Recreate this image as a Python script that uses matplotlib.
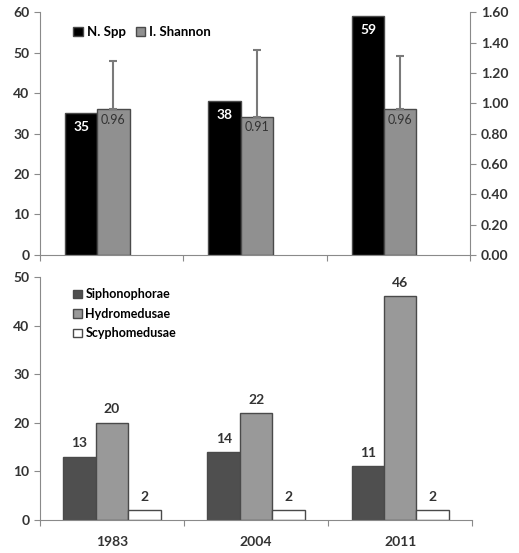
import matplotlib.pyplot as plt
import numpy as np

years = ["1983", "2004", "2011"]
n_spp = [35, 38, 59]
shannon = [0.96, 0.91, 0.96]
shannon_err = [0.32, 0.44, 0.35]
sipho = [13, 14, 11]
hydro = [20, 22, 46]
scypho = [2, 2, 2]

plt.rcParams['font.family'] = ['Lato', 'DejaVu Sans']
plt.rcParams['font.weight'] = 'bold'
plt.rcParams['font.size'] = 10

axcol = "#8a8a8a"
edge = "#4a4a4a"
w = 0.225
x = np.arange(len(years))

fig = plt.figure(figsize=(5.19, 5.53), dpi=100)
ax1 = fig.add_axes([0.077, 0.539, 0.829, 0.439])
ax2 = fig.add_axes([0.077, 0.060, 0.833, 0.439])


def style(ax, sides):
    for s in ax.spines:
        ax.spines[s].set_visible(s in sides)
        ax.spines[s].set_color(axcol)
    ax.tick_params(colors=axcol, labelcolor="#333333", direction="out", length=4)


# top panel
ax1.set_xlim(-0.5, 2.5)
ax1.set_ylim(0, 60)
ax1.set_yticks(range(0, 61, 10))
b1 = ax1.bar(x - w / 2 - 0.1, n_spp, w, color="black", edgecolor=edge, lw=1,
             label="N. Spp")
style(ax1, ["left", "bottom"])
ax1.set_xticks([-0.5, 0.5, 1.5, 2.5])
ax1.set_xticklabels([])

ax1r = ax1.twinx()
ax1r.set_ylim(0, 1.6)
ax1r.set_yticks(np.arange(0, 1.61, 0.2))
ax1r.set_yticklabels(["%.2f" % v for v in np.arange(0, 1.61, 0.2)])
b2 = ax1r.bar(x + w / 2 - 0.1, shannon, w, color="#909090", edgecolor=edge, lw=1,
              label="I. Shannon")
ax1r.errorbar(x + w / 2 - 0.1, shannon, yerr=[np.zeros(3), shannon_err], fmt="none",
              ecolor="#7a7a7a", elinewidth=1.5, capsize=3, capthick=1.5)
style(ax1r, ["right"])

for xi, v in zip(x - w / 2 - 0.1, n_spp):
    ax1.text(xi, v - 2, str(v), color="white", ha="center", va="top", fontsize=10)
for xi, v in zip(x + w / 2 - 0.1, shannon):
    ax1r.text(xi, v - 0.03, "%.2f" % v, color="#333333", ha="center", va="top",
              fontsize=9, fontweight="normal")

ax1.legend([b1, b2], ["N. Spp", "I. Shannon"], loc="upper left", ncol=2,
           bbox_to_anchor=(0.05, 0.99), frameon=False, handlelength=0.7,
           handleheight=0.7, handletextpad=0.3, columnspacing=0.8, fontsize=9.5)

# bottom panel
ax2.set_xlim(-0.5, 2.5)
ax2.set_ylim(0, 50)
ax2.set_yticks(range(0, 51, 10))
c1 = ax2.bar(x - w, sipho, w, color="#4f4f4f", edgecolor=edge, lw=1)
c2 = ax2.bar(x, hydro, w, color="#999999", edgecolor=edge, lw=1)
c3 = ax2.bar(x + w, scypho, w, color="white", edgecolor=edge, lw=1)
for bars, vals in [(c1, sipho), (c2, hydro), (c3, scypho)]:
    for b, v in zip(bars, vals):
        ax2.text(b.get_x() + b.get_width() / 2, v + 1.5, str(v), ha="center",
                 va="bottom", color="#333333")
style(ax2, ["left", "bottom"])
ax2.set_xticks([-0.5, 0.5, 1.5, 2.5], minor=False)
ax2.set_xticklabels([])
ax2.set_xticks(x, minor=True)
ax2.set_xticklabels(years, minor=True)
ax2.tick_params(axis="x", which="minor", length=0, pad=12, labelcolor="#333333")

ax2.legend([c1, c2, c3], ["Siphonophorae", "Hydromedusae", "Scyphomedusae"],
           loc="upper left", bbox_to_anchor=(0.05, 1.0), frameon=False,
           handlelength=0.7, handleheight=0.7, handletextpad=0.3,
           labelspacing=0.6, fontsize=9)

fig.savefig("out.png", dpi=100)
